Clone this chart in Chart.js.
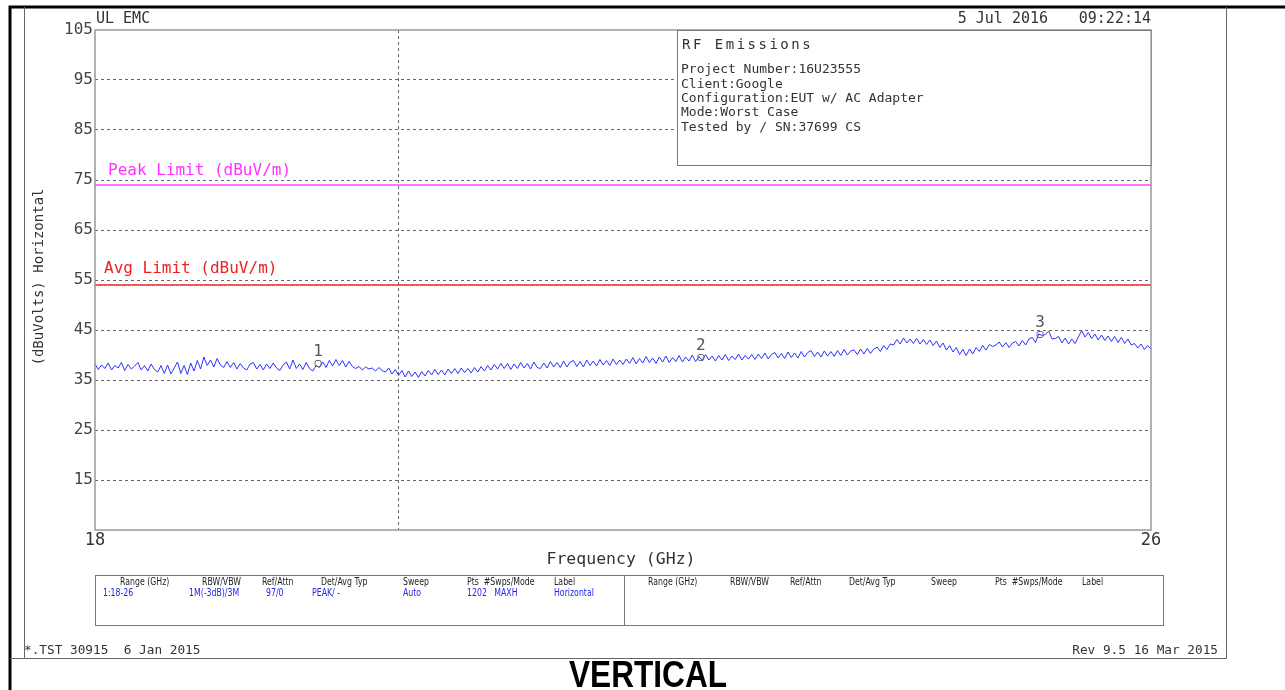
<!DOCTYPE html>
<html>
<head>
<meta charset="utf-8">
<script src="https://cdn.jsdelivr.net/npm/chart.js@4.4.1/dist/chart.umd.min.js"></script>
<style>
  html, body { margin: 0; padding: 0; background: #fff; }
  #plot { position: absolute; left: 0; top: 0; }
</style>
</head>
<body>
<canvas id="plot" width="1285" height="690"></canvas>
<script>
// sweep 18-26 GHz, trace level (dBuV)
var startFreq = 18;
var stopFreq = 26;
var traceLevels = [
  38.2,37.1,38.0,37.3,38.4,37.0,37.9,37.4,38.5,36.9,
  38.1,37.2,37.8,38.5,37.0,37.9,36.8,38.2,37.1,36.6,
  37.9,36.3,38.0,36.2,37.4,38.6,36.3,37.9,36.1,38.4,
  36.8,38.9,37.2,39.6,37.9,39.0,37.6,39.3,38.0,37.5,
  38.7,37.5,38.5,37.2,38.3,37.4,37.0,38.2,38.5,37.2,
  38.1,37.0,38.2,37.3,38.4,37.4,36.9,38.0,38.6,37.2,
  39.0,37.3,38.2,37.1,38.5,37.3,36.8,37.9,37.5,38.6,
  37.5,38.9,37.8,39.1,37.9,38.9,37.6,38.7,37.7,37.3,
  37.7,37.0,37.6,37.2,37.4,36.8,37.5,36.9,36.6,37.4,
  36.2,37.1,35.9,36.9,35.6,36.8,35.7,36.6,35.5,36.7,
  35.8,36.9,36.0,37.1,36.1,37.0,36.0,37.2,36.3,37.3,
  36.3,37.4,36.5,37.3,36.4,37.5,36.6,37.7,36.8,37.9,
  37.0,38.1,37.2,38.3,37.3,38.3,37.1,38.2,37.3,38.5,
  37.4,38.3,37.2,38.6,37.5,37.3,38.4,37.4,38.7,37.6,
  38.5,37.5,38.8,37.6,38.6,38.9,37.7,38.7,37.6,39.0,
  37.9,38.8,37.8,39.1,38.0,38.9,37.9,39.2,38.1,39.0,
  38.1,39.2,38.3,39.5,38.2,39.3,38.4,39.7,38.5,39.4,
  38.3,39.6,38.6,39.8,38.5,39.5,38.7,39.9,38.6,39.6,
  38.8,40.0,38.7,39.7,38.9,40.1,39.0,39.8,38.8,39.9,
  39.0,40.1,38.9,39.8,39.1,40.2,39.0,39.9,39.2,40.1,
  39.1,40.2,39.3,40.4,39.2,40.1,40.5,39.4,40.3,39.3,
  40.6,39.5,40.4,39.4,40.7,39.6,40.5,40.9,39.7,40.6,
  39.6,40.8,39.8,40.7,39.7,40.9,39.9,41.1,40.0,40.8,
  41.0,40.1,41.2,40.2,41.3,40.3,41.2,41.6,40.7,41.9,
  41.1,42.2,42.0,43.1,42.2,43.4,42.4,43.2,42.3,43.3,
  42.2,43.1,42.1,43.0,41.9,42.8,41.5,42.4,41.0,41.9,
  40.6,41.5,40.1,41.1,39.9,41.2,40.2,41.5,40.7,41.9,
  41.0,42.1,41.7,42.0,42.6,41.6,42.5,41.5,42.4,42.7,
  41.8,42.9,42.0,43.2,43.5,42.5,44.2,43.9,44.1,44.8,
  43.2,43.3,43.7,42.4,43.4,42.2,43.2,42.3,43.6,44.9,
  43.6,44.5,43.3,44.2,43.0,44.0,42.9,43.8,42.7,43.7,
  42.5,43.5,42.3,43.2,42.0,42.3,41.4,42.2,41.1,41.9,
  41.2
];
var peakLimit = 74;
var avgLimit = 54;
var markerLabels = ["1", "2", "3"];
var markerFreqs = [19.69, 22.59, 25.16];
var markerLevels = [38.3, 39.5, 44.1];
var xTickValues = [18, 20.3, 26];
var yMin = 5, yMax = 105, yStep = 10;

var stepFreq = (stopFreq - startFreq) / (traceLevels.length - 1);
var tracePoints = traceLevels.map((v, i) => ({ x: startFreq + i * stepFreq, y: v }));
var markerPoints = markerFreqs.map((f, i) => ({ x: f, y: markerLevels[i] }));

var MONO = '"DejaVu Sans Mono", monospace';

function txt(ctx, s, x, y, font, color, align, sx) {
  ctx.save();
  ctx.font = font;
  ctx.fillStyle = color;
  ctx.textBaseline = "middle";
  ctx.textAlign = align || "left";
  ctx.translate(x, y);
  if (sx) ctx.scale(sx, 1);
  ctx.fillText(s, 0, 0);
  ctx.restore();
}

var pagePlugin = {
  id: "page",
  beforeDraw(chart) {
    let ctx = chart.ctx;
    ctx.save();
    ctx.fillStyle = "#fff";
    ctx.fillRect(0, 0, chart.width, chart.height);
    ctx.restore();
  },
  afterDraw(chart) {
    let ctx = chart.ctx;
    let a = chart.chartArea;
    let xs = chart.scales.x, ys = chart.scales.y;
    ctx.save();

    // outer frames
    ctx.strokeStyle = "#000";
    ctx.lineWidth = 3;
    ctx.beginPath();
    ctx.moveTo(10, 690); ctx.lineTo(10, 7); ctx.lineTo(1285, 7);
    ctx.stroke();
    ctx.strokeStyle = "#666";
    ctx.lineWidth = 1;
    ctx.beginPath();
    ctx.moveTo(24.5, 7); ctx.lineTo(24.5, 658.5); ctx.lineTo(1226.5, 658.5); ctx.lineTo(1226.5, 7);
    ctx.moveTo(10, 658.5); ctx.lineTo(24.5, 658.5);
    ctx.stroke();

    // plot frame
    ctx.strokeStyle = "#999";
    ctx.lineWidth = 1.5;
    ctx.strokeRect(a.left, a.top, a.right - a.left, a.bottom - a.top);

    // info box
    ctx.fillStyle = "#fff";
    ctx.fillRect(677, a.top, a.right - 677, 165 - a.top);
    ctx.strokeStyle = "#777";
    ctx.lineWidth = 1;
    ctx.strokeRect(677.5, a.top + 0.5, a.right - 677.5, 165 - a.top);
    ctx.save();
    ctx.letterSpacing = "2.5px";
    txt(ctx, "RF Emissions", 682, 45, "14px " + MONO, "#333");
    ctx.restore();
    let info = ["Project Number:16U23555", "Client:Google", "Configuration:EUT w/ AC Adapter",
                "Mode:Worst Case", "Tested by / SN:37699 CS"];
    info.forEach((s, i) => txt(ctx, s, 681, 70 + i * 14.3, "13px " + MONO, "#333"));

    // header / titles
    txt(ctx, "UL EMC", 96, 19, "15px " + MONO, "#333");
    txt(ctx, "5 Jul 2016", 1048, 19, "15px " + MONO, "#333", "right");
    txt(ctx, "09:22:14", 1151, 19, "15px " + MONO, "#333", "right");
    txt(ctx, "Frequency (GHz)", 621, 560, "16.5px " + MONO, "#333", "center");
    ctx.save();
    ctx.translate(39, 277);
    ctx.rotate(-Math.PI / 2);
    txt(ctx, "(dBuVolts) Horizontal", 0, 0, "14px " + MONO, "#333", "center");
    ctx.restore();

    // limit labels
    txt(ctx, "Peak Limit (dBuV/m)", 108, ys.getPixelForValue(peakLimit) - 14, "16px " + MONO, "#ff33ff");
    txt(ctx, "Avg Limit (dBuV/m)", 104, ys.getPixelForValue(avgLimit) - 16, "16px " + MONO, "#ee2222");

    // marker numbers
    markerPoints.forEach((p, i) => {
      txt(ctx, markerLabels[i], xs.getPixelForValue(p.x), ys.getPixelForValue(p.y) - 12, "16px " + MONO, "#555", "center");
    });

    // settings table
    ctx.strokeStyle = "#777";
    ctx.lineWidth = 1;
    ctx.strokeRect(95.5, 575.5, 1068, 50);
    ctx.beginPath(); ctx.moveTo(624.5, 575.5); ctx.lineTo(624.5, 625.5); ctx.stroke();
    let hdr = ["Range (GHz)", "RBW/VBW", "Ref/Attn", "Det/Avg Typ", "Sweep", "Pts  #Swps/Mode", "Label"];
    let hx = [120, 202, 262, 321, 403, 467, 554];
    let vals = ["1:18-26", "1M(-3dB)/3M", "97/0", "PEAK/ -", "Auto", "1202   MAXH", "Horizontal"];
    let vx = [103, 189, 266, 312, 403, 467, 554];
    let tf = '10px "DejaVu Sans"';
    hdr.forEach((s, i) => {
      txt(ctx, s, hx[i], 582, tf, "#222", "left", 0.78);
      txt(ctx, s, hx[i] + 528, 582, tf, "#222", "left", 0.78);
    });
    vals.forEach((s, i) => txt(ctx, s, vx[i], 593, tf, "#2222ee", "left", 0.78));

    // footer
    txt(ctx, "*.TST 30915  6 Jan 2015", 24, 651, "13px " + MONO, "#333", "left", 0.98);
    txt(ctx, "Rev 9.5 16 Mar 2015", 1218, 651, "13px " + MONO, "#333", "right", 0.98);

    // caption
    ctx.font = 'bold 36px "Liberation Sans", Arial, sans-serif';
    let w = ctx.measureText("VERTICAL").width;
    txt(ctx, "VERTICAL", 648, 677, ctx.font, "#000", "center", 158 / w);

    ctx.restore();
  }
};

new Chart(document.getElementById("plot"), {
  type: "line",
  data: {
    datasets: [
      {
        label: "Trace",
        data: tracePoints,
        borderColor: "#3030ff",
        borderWidth: 1,
        pointRadius: 0,
        tension: 0,
        order: 2,
      },
      {
        label: "Peak Limit",
        data: [{ x: startFreq, y: peakLimit }, { x: stopFreq, y: peakLimit }],
        borderColor: "#ff44ff",
        borderWidth: 1.5,
        pointRadius: 0,
        order: 3,
      },
      {
        label: "Avg Limit",
        data: [{ x: startFreq, y: avgLimit }, { x: stopFreq, y: avgLimit }],
        borderColor: "#ee2222",
        borderWidth: 1.5,
        pointRadius: 0,
        order: 3,
      },
      {
        type: "scatter",
        label: "Markers",
        data: markerPoints,
        pointStyle: "rectRounded",
        pointRadius: 3.5,
        borderColor: "#666",
        backgroundColor: "rgba(255,255,255,0)",
        borderWidth: 1,
        order: 1,
      },
    ],
  },
  options: {
    responsive: false,
    animation: false,
    devicePixelRatio: 1,
    layout: { padding: { left: 0, top: 30, right: 134, bottom: 140 } },
    plugins: { legend: false, tooltip: { enabled: false } },
    scales: {
      x: {
        type: "linear",
        min: startFreq,
        max: stopFreq,
        afterFit: (scale) => { scale.height = 20; },
        afterBuildTicks: (scale) => { scale.ticks = xTickValues.map((v) => ({ value: v })); },
        ticks: {
          padding: 0,
          autoSkip: false,
          maxRotation: 0,
          color: "#333",
          font: { family: "DejaVu Sans Mono", size: 17 },
          callback: (v) => (v === startFreq || v === stopFreq ? String(v) : ""),
        },
        grid: {
          drawTicks: false,
          color: (c) => (c.tick && c.tick.value === 20.3 ? "#666" : "rgba(0,0,0,0)"),
        },
        border: { display: false, dash: [3, 3] },
      },
      y: {
        min: yMin,
        max: yMax,
        afterFit: (scale) => { scale.width = 95; },
        ticks: {
          stepSize: yStep,
          padding: 2,
          color: "#444",
          font: { family: "DejaVu Sans Mono", size: 16 },
          callback: (v) => (v === yMin ? "" : String(v)),
        },
        grid: {
          drawTicks: false,
          color: (c) => (c.tick && (c.tick.value === yMin || c.tick.value === yMax) ? "rgba(0,0,0,0)" : "#666"),
        },
        border: { display: false, dash: [3, 3] },
      },
    },
  },
  plugins: [pagePlugin],
});
</script>
</body>
</html>
